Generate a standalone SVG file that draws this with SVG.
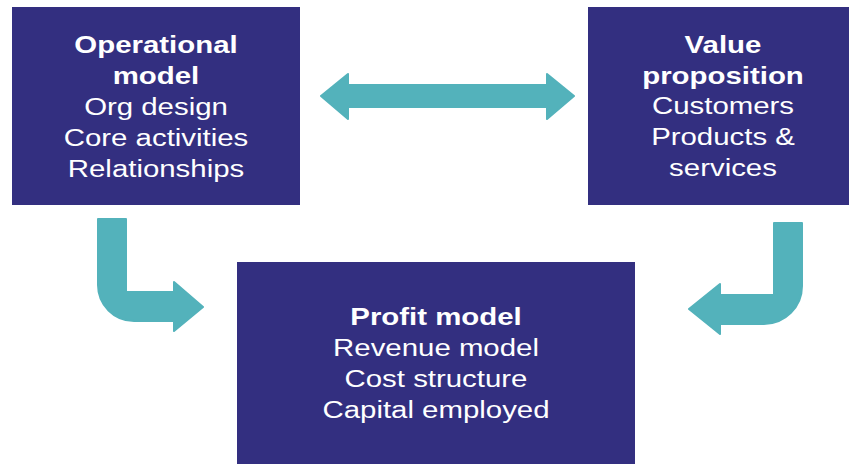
<svg xmlns="http://www.w3.org/2000/svg" width="849" height="464" viewBox="0 0 849 464">
  <style>
    .box { fill: #332F80; }
    .arrow { fill: #53B2BB; stroke: #53B2BB; stroke-width: 2; stroke-linejoin: round; }
    text { font-family: "Liberation Sans", Arial, sans-serif; font-size: 24.5px; fill: #FFFFFF; text-anchor: middle; }
    .b { font-weight: bold; }
  </style>
  <rect x="0" y="0" width="849" height="464" fill="#FFFFFF"/>
  <g id="operational-model">
    <rect class="box" x="12" y="7" width="288" height="198"/>
    <g transform="translate(156 0) scale(1.2 1)">
      <text class="b" x="0" y="53">Operational</text>
      <text class="b" x="0" y="84">model</text>
      <text x="0" y="115">Org design</text>
      <text x="0" y="146">Core activities</text>
      <text x="0" y="177">Relationships</text>
    </g>
  </g>
  <g id="value-proposition">
    <rect class="box" x="588" y="7" width="261" height="198"/>
    <g transform="translate(723 0) scale(1.2 1)">
      <text class="b" x="0" y="53">Value</text>
      <text class="b" x="0" y="84">proposition</text>
      <text x="0" y="114">Customers</text>
      <text x="0" y="145">Products &amp;</text>
      <text x="0" y="176">services</text>
    </g>
  </g>
  <g id="profit-model">
    <rect class="box" x="237" y="262" width="398" height="202"/>
    <g transform="translate(436 0) scale(1.2 1)">
      <text class="b" x="0" y="325">Profit model</text>
      <text x="0" y="356">Revenue model</text>
      <text x="0" y="387">Cost structure</text>
      <text x="0" y="418">Capital employed</text>
    </g>
  </g>
  <g id="connectors">
    <path class="arrow" d="M321,96 L348,74 L348,85 L547,85 L547,74 L574,96 L547,119 L547,107 L348,107 L348,119 Z"/>
    <path class="arrow" d="M98,219 L126,219 L126,292 L174,292 L174,282 L203,307 L174,331 L174,321 L134,321 A36,36 0 0 1 98,285 Z"/>
    <path class="arrow" d="M802,223 L774,223 L774,295 L720,295 L720,284 L689,309 L720,334 L720,324 L764,324 A38,38 0 0 0 802,286 Z"/>
  </g>
</svg>
